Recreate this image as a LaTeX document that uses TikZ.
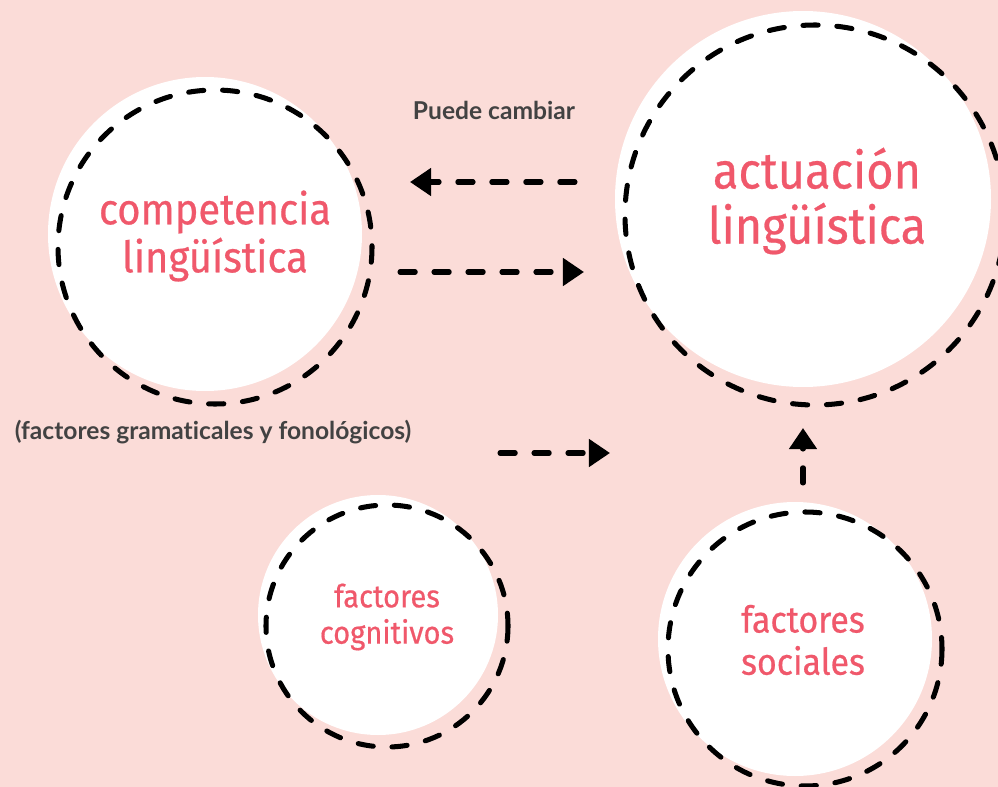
\documentclass[tikz,border=0pt]{standalone}
\usepackage{fontspec}
\usetikzlibrary{arrows.meta}
\newfontfamily\circfont[FakeStretch=0.92,FakeBold=0.5]{Fira Sans}
\newfontfamily\notefont[Ligatures=NoCommon]{Lato}
\definecolor{bgpink}{RGB}{251,220,216}
\definecolor{wordred}{RGB}{240,88,107}
\definecolor{notegray}{RGB}{66,66,66}

\begin{document}
\begin{tikzpicture}[x=0.03cm, y=-0.03cm,
	ring/.style={line width=4.3pt, dash pattern=on 13pt off 16pt, line cap=round},
	flow/.style={ring, -{Triangle[length=18pt,width=23pt]}},
	word/.style={align=center, text=wordred, inner sep=0pt},
	note/.style={text=notegray, font=\notefont\bfseries\fontsize{21pt}{25pt}\selectfont}]
	\useasboundingbox (0,0) rectangle (998,787);
	\clip (0,0) rectangle (998,787);
	\fill [bgpink] (0,0) rectangle (998,787);
	
	\fill [white] (205,234) circle [radius=157];
	\fill [white] (803,199) circle [radius=188];
	\fill [white] (378,615) circle [radius=120];
	\fill [white] (795,639) circle [radius=137];
	\draw [ring] (215,247) circle [radius=157];
	\draw [ring] (815,215) circle [radius=190];
	\draw [ring] (387,626) circle [radius=121];
	\draw [ring] (805,649) circle [radius=137];
	
	\node [word, font=\circfont\fontsize{37pt}{41pt}\selectfont] (comp) at (215,236) {competencia\\lingüística};
	\node [word, font=\circfont\fontsize{43.5pt}{47pt}\selectfont] (actu) at (817,201) {actuación\\lingüística};
	\node [word, font=\circfont\fontsize{27pt}{31pt}\selectfont] (cogn) at (387,617) {factores\\cognitivos};
	\node [word, font=\circfont\fontsize{31.5pt}{36pt}\selectfont] (soci) at (803,640) {factores\\sociales};
	
	\node [note] (cambio) at (494,110) {Puede cambiar};
	\node [note] (gram) at (213,432) {(factores gramaticales y fonológicos)};
	
	\coordinate (backTail) at (575,182);
	\coordinate (backHead) at (410,182);
	\coordinate (goTail) at (400,272);
	\coordinate (goHead) at (584,272);
	\coordinate (cognTail) at (500,453);
	\coordinate (cognHead) at (610,453);
	\coordinate (sociTail) at (803,483);
	\coordinate (sociHead) at (803,428);
	\draw [flow] (backTail) -- (backHead);
	\draw [flow] (goTail) -- (goHead);
	\draw [flow] (cognTail) -- (cognHead);
	\draw [flow] (sociTail) -- (sociHead);
\end{tikzpicture}
\end{document}
